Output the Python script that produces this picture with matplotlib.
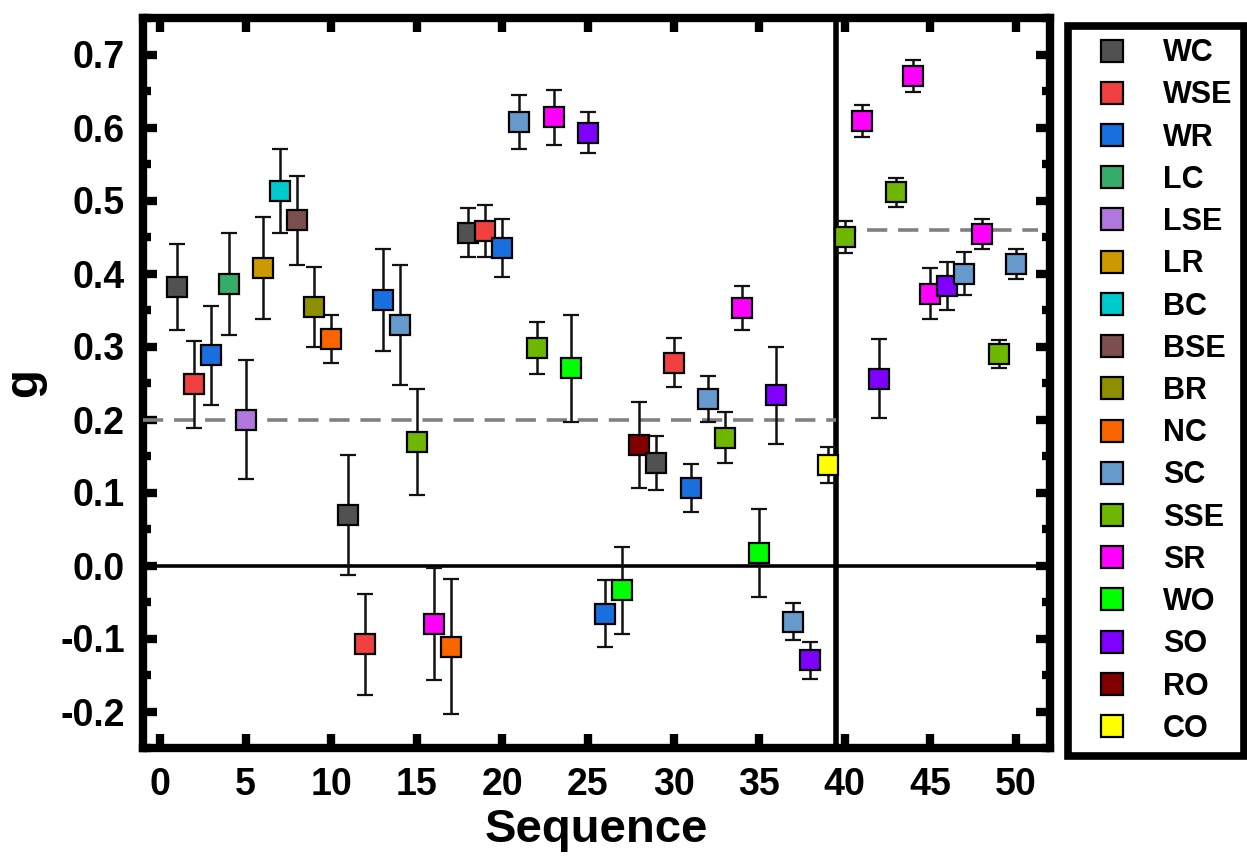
import matplotlib
matplotlib.use("Agg")
import matplotlib.pyplot as plt
from matplotlib.lines import Line2D
from matplotlib.ticker import MultipleLocator

plt.rcParams['font.family'] = ['Liberation Sans', 'DejaVu Sans']
plt.rcParams['font.weight'] = 'bold'

# ---- data ----
categories = ["WC", "WSE", "WR", "LC", "LSE", "LR", "BC", "BSE", "BR", "NC",
              "SC", "SSE", "SR", "WO", "SO", "RO", "CO"]
cat_colors = ["#515151", "#F14040", "#1A6FDF", "#37AD6B", "#B177DE", "#CC9900",
              "#00CBCC", "#7D4E4E", "#8E8E00", "#FB6500", "#6699CC", "#6FB802",
              "#FF00FF", "#00FF00", "#7F00FF", "#800000", "#FFFF00"]

sequence = list(range(1, 51))
point_cat = ["WC", "WSE", "WR", "LC", "LSE", "LR", "BC", "BSE", "BR", "NC",
             "WC", "WSE", "WR", "SC", "SSE", "SR", "NC", "WC", "WSE", "WR",
             "SC", "SSE", "SR", "WO", "SO", "WR", "WO", "RO", "WC", "WSE",
             "WR", "SC", "SSE", "SR", "WO", "SO", "SC", "SO", "CO", "SSE",
             "SR", "SO", "SSE", "SR", "SR", "SO", "SC", "SR", "SSE", "SC"]
g_values = [0.382, 0.248, 0.288, 0.386, 0.200, 0.407, 0.513, 0.473, 0.354, 0.310,
            0.069, -0.108, 0.364, 0.329, 0.169, -0.080, -0.111, 0.456, 0.458, 0.435,
            0.608, 0.298, 0.614, 0.270, 0.593, -0.066, -0.034, 0.165, 0.141, 0.278,
            0.106, 0.228, 0.175, 0.353, 0.017, 0.233, -0.077, -0.130, 0.138, 0.450,
            0.609, 0.256, 0.511, 0.671, 0.372, 0.383, 0.400, 0.454, 0.290, 0.413]
g_errors = [0.059, 0.060, 0.068, 0.070, 0.081, 0.070, 0.058, 0.061, 0.055, 0.033,
            0.082, 0.069, 0.070, 0.082, 0.073, 0.077, 0.092, 0.034, 0.036, 0.040,
            0.037, 0.035, 0.038, 0.073, 0.028, 0.046, 0.060, 0.059, 0.037, 0.034,
            0.033, 0.032, 0.035, 0.030, 0.060, 0.067, 0.025, 0.025, 0.025, 0.022,
            0.022, 0.054, 0.020, 0.022, 0.035, 0.033, 0.030, 0.020, 0.019, 0.020]

ref_left = 0.2     # reference level for sequences 1-39
ref_right = 0.46   # reference level for sequences 40-50
split_x = 39.5

# ---- figure ----
W, H = 1247, 859
fig = plt.figure(figsize=(W / 100, H / 100), dpi=100)
ax = fig.add_axes([143 / W, 1 - 748 / H, (1050 - 143) / W, (748 - 18) / H])

color_of = dict(zip(categories, cat_colors))

for i, (x, y, e, c) in enumerate(zip(sequence, g_values, g_errors, point_cat)):
    ax.errorbar(x, y, yerr=e, fmt='s', ms=15, mfc=color_of[c], mec='black', mew=1.6,
                ecolor='#111111', elinewidth=1.8, capsize=5.5, capthick=1.8,
                zorder=4 + i * 0.01)

xmin, xmax = -1, 52
ax.set_xlim(xmin, xmax)
ax.set_ylim(-0.25, 0.75)

ax.axhline(0, color='black', lw=2.6, zorder=2)
ax.axvline(split_x, color='black', lw=4, zorder=2)
ax.plot([xmin, split_x], [ref_left, ref_left], color='#808080', lw=2.6,
        dashes=(5.6, 3.0), dash_capstyle='butt', zorder=3)
ax.plot([split_x, 51.3], [ref_right, ref_right], color='#808080', lw=2.6,
        dashes=(5.6, 3.0), dash_capstyle='butt', zorder=3)

for s in ax.spines.values():
    s.set_linewidth(6)

ax.xaxis.set_major_locator(MultipleLocator(5))
ax.yaxis.set_major_locator(MultipleLocator(0.1))
ax.yaxis.set_minor_locator(MultipleLocator(0.05))
ax.tick_params(axis='both', which='major', direction='in', length=10, width=6,
               labelsize=27, pad=13)
ax.tick_params(axis='y', which='minor', direction='in', length=6, width=6,
               left=True, right=True)
ax.tick_params(axis='x', which='major', top=True, pad=14)
ax.tick_params(axis='y', which='major', right=True)
yt = [-0.2, -0.1, 0.0, 0.1, 0.2, 0.3, 0.4, 0.5, 0.6, 0.7]
ax.set_yticks(yt)
ax.set_yticklabels([f"{v:.1f}" for v in yt])

ax.set_xlabel("Sequence", fontsize=34, fontweight='bold', labelpad=3)
ax.set_ylabel("g", fontsize=34, fontweight='bold', labelpad=10)

handles = [Line2D([], [], marker='s', ls='none', ms=16, mfc=col, mec='black', mew=1.6)
           for col in cat_colors]
leg = fig.legend(handles, categories, loc='upper left',
                 bbox_to_anchor=(1068 / W, 1 - 26 / H), borderaxespad=0,
                 prop={'size': 22, 'weight': 'bold'}, frameon=True, fancybox=False,
                 framealpha=1, edgecolor='black', borderpad=0.4, handlelength=2.1,
                 handletextpad=0.6, labelspacing=0.4)
leg.get_frame().set_linewidth(5.5)

fig.savefig("out.png", dpi=100)
